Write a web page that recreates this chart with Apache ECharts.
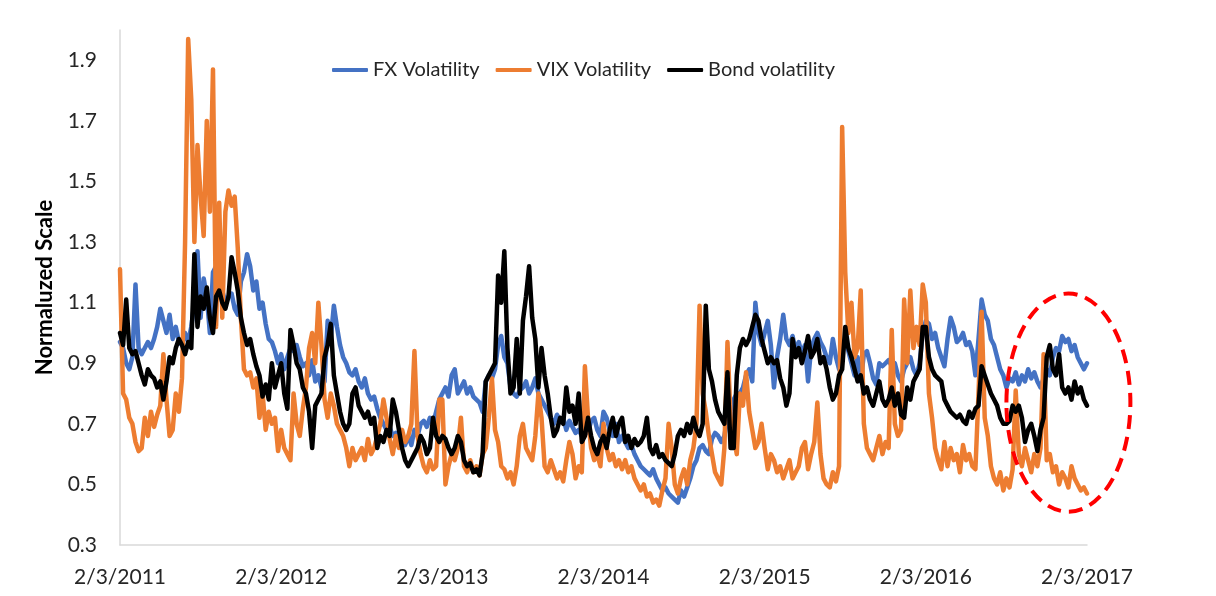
<!DOCTYPE html>
<html><head><meta charset="utf-8">
<script src="https://cdn.jsdelivr.net/npm/echarts@6/dist/echarts.min.js"></script>
<style>html,body{margin:0;padding:0;background:#fff}#c{width:1216px;height:596px}</style>
</head><body><div id="c"></div>
<script>
const tickLabels = ['2/3/2011','2/3/2012','2/3/2013','2/3/2014','2/3/2015','2/3/2016','2/3/2017'];
const seriesNames = ['FX Volatility','VIX Volatility','Bond volatility'];

// weekly readings, Feb 2011 -> Feb 2017 (52 per year + final point)
const fxVolatility = [
0.97,0.95,0.90,0.88,0.92,1.16,0.95,0.93,0.95,0.97,0.95,0.98,1.02,1.08,1.04,1.00,1.06,0.98,1.02,0.97,0.96,1.00,0.97,1.02,1.10,1.27,1.05,1.18,1.12,1.00,1.20,1.22,1.16,1.14,1.10,1.12,1.13,1.08,1.06,1.17,1.20,1.26,1.22,1.14,1.17,1.08,1.10,1.03,0.98,0.97,0.94,0.90,
0.93,0.88,0.92,0.95,0.94,0.96,0.92,0.89,0.90,0.86,0.91,0.84,0.86,0.82,0.84,1.04,0.98,1.09,1.02,0.96,0.92,0.90,0.87,0.86,0.88,0.84,0.82,0.85,0.80,0.78,0.79,0.75,0.72,0.70,0.68,0.69,0.66,0.67,0.64,0.65,0.63,0.66,0.63,0.68,0.66,0.70,0.71,0.69,0.72,0.70,0.74,0.78,
0.80,0.82,0.79,0.86,0.88,0.80,0.82,0.84,0.80,0.82,0.79,0.78,0.77,0.74,0.84,0.86,0.85,0.88,0.96,0.99,0.92,0.90,0.82,0.80,0.79,0.81,0.82,0.84,0.80,0.82,0.85,0.80,0.78,0.76,0.74,0.72,0.70,0.73,0.71,0.72,0.68,0.71,0.69,0.67,0.68,0.66,0.69,0.67,0.71,0.72,0.68,0.66,
0.74,0.72,0.68,0.66,0.70,0.64,0.66,0.64,0.62,0.63,0.60,0.58,0.56,0.55,0.54,0.53,0.55,0.52,0.50,0.48,0.49,0.47,0.46,0.45,0.44,0.48,0.46,0.49,0.52,0.56,0.58,0.62,0.63,0.61,0.60,0.65,0.67,0.66,0.64,0.66,0.72,0.70,0.78,0.80,0.80,0.82,0.86,0.88,0.84,1.10,1.00,0.96,
1.00,1.04,0.96,0.82,0.92,0.98,1.06,0.98,0.96,0.99,0.94,0.97,0.93,0.96,0.84,0.95,0.98,1.00,0.97,0.95,0.92,0.90,0.98,0.92,0.88,0.96,0.98,0.94,0.90,0.86,0.92,0.84,0.93,0.94,0.90,0.85,0.83,0.90,0.89,0.90,0.91,0.89,0.90,0.86,0.84,0.88,0.90,0.92,0.88,0.86,0.90,1.00,
1.04,1.03,0.98,1.00,0.95,0.92,0.89,0.98,1.05,1.02,0.97,0.98,1.00,0.96,0.97,0.94,0.86,0.98,1.11,1.06,1.04,0.98,0.96,0.92,0.88,0.86,0.82,0.85,0.84,0.87,0.83,0.86,0.84,0.88,0.85,0.87,0.84,0.82,0.85,0.88,0.86,0.92,0.95,0.94,0.99,0.97,0.98,0.94,0.96,0.92,0.90,0.88,0.90
];
const vixVolatility = [
1.21,0.80,0.78,0.72,0.70,0.64,0.61,0.62,0.72,0.66,0.74,0.69,0.73,0.76,0.93,0.78,0.66,0.68,0.80,0.74,0.85,1.30,1.97,1.77,1.30,1.62,1.45,1.32,1.70,1.40,1.87,1.02,1.43,1.05,1.40,1.47,1.42,1.45,1.28,1.05,0.88,0.86,0.87,0.82,0.85,0.72,0.80,0.68,0.74,0.70,0.72,0.61,
0.68,0.62,0.60,0.58,0.80,0.70,0.66,0.75,0.82,0.95,1.00,0.90,1.10,0.96,0.78,0.72,0.80,0.76,0.70,0.68,0.66,0.62,0.56,0.62,0.58,0.60,0.62,0.58,0.65,0.60,0.62,0.66,0.70,0.78,0.72,0.65,0.60,0.66,0.62,0.68,0.64,0.66,0.70,0.94,0.66,0.60,0.56,0.54,0.58,0.55,0.56,0.78,
0.78,0.50,0.56,0.60,0.58,0.62,0.72,0.56,0.54,0.58,0.54,0.56,0.53,0.60,0.62,0.72,0.85,0.68,0.64,0.56,0.55,0.52,0.54,0.50,0.56,0.66,0.70,0.62,0.60,0.58,0.66,0.80,0.72,0.56,0.54,0.58,0.55,0.52,0.54,0.51,0.58,0.64,0.60,0.52,0.56,0.54,0.89,0.72,0.62,0.58,0.60,0.56,
0.70,0.62,0.58,0.60,0.56,0.58,0.55,0.58,0.54,0.56,0.52,0.50,0.48,0.50,0.46,0.47,0.44,0.45,0.43,0.48,0.52,0.70,0.62,0.50,0.47,0.52,0.55,0.50,0.58,0.62,0.70,1.09,0.80,0.74,0.66,0.60,0.54,0.52,0.50,0.62,0.97,0.72,0.66,0.60,0.80,0.76,0.87,0.74,0.68,0.62,0.64,0.70,
0.62,0.55,0.60,0.58,0.54,0.56,0.52,0.55,0.58,0.52,0.54,0.56,0.62,0.64,0.55,0.60,0.64,0.77,0.60,0.52,0.50,0.49,0.54,0.51,0.56,1.68,1.20,1.00,1.10,0.92,0.95,1.14,0.70,0.62,0.60,0.58,0.62,0.66,0.60,0.64,0.62,1.01,0.70,0.66,0.68,1.11,0.90,1.14,0.95,1.02,0.96,1.16,
1.10,0.80,0.72,0.62,0.58,0.55,0.64,0.56,0.62,0.58,0.60,0.54,0.63,0.58,0.60,0.56,0.55,0.80,1.07,0.72,0.66,0.56,0.52,0.50,0.54,0.48,0.52,0.49,0.55,0.81,0.60,0.56,0.62,0.58,0.54,0.60,0.56,0.62,0.93,0.58,0.60,0.54,0.56,0.50,0.54,0.52,0.49,0.56,0.52,0.50,0.48,0.49,0.47
];
const bondVolatility = [
1.00,0.96,1.11,0.95,0.93,0.94,0.90,0.86,0.83,0.88,0.86,0.85,0.82,0.84,0.78,0.84,0.92,0.90,0.95,0.98,0.96,0.93,0.97,0.95,1.26,1.02,1.12,1.08,1.15,1.05,1.00,1.12,1.14,1.10,1.08,1.12,1.25,1.20,1.14,1.05,1.00,0.96,0.98,0.93,0.89,0.86,0.79,0.83,0.78,0.90,0.82,0.86,
0.90,0.80,0.75,1.01,0.96,0.90,0.88,0.82,0.80,0.74,0.62,0.76,0.78,0.80,0.92,0.96,1.03,0.86,0.80,0.74,0.70,0.68,0.70,0.80,0.82,0.76,0.74,0.72,0.74,0.70,0.72,0.62,0.66,0.64,0.68,0.66,0.78,0.74,0.68,0.62,0.58,0.56,0.58,0.60,0.62,0.66,0.64,0.60,0.62,0.72,0.66,0.64,
0.66,0.65,0.62,0.60,0.62,0.66,0.64,0.58,0.56,0.57,0.54,0.55,0.53,0.60,0.84,0.86,0.88,0.90,1.19,1.10,1.27,0.95,0.80,0.82,0.98,0.80,1.04,1.12,1.22,1.05,0.98,0.82,0.95,0.86,0.80,0.72,0.66,0.68,0.72,0.70,0.82,0.74,0.76,0.70,0.80,0.64,0.66,0.72,0.66,0.62,0.60,0.64,
0.66,0.62,0.68,0.72,0.66,0.70,0.72,0.64,0.66,0.62,0.65,0.63,0.64,0.66,0.72,0.62,0.60,0.63,0.59,0.60,0.58,0.57,0.56,0.60,0.66,0.68,0.66,0.70,0.67,0.72,0.68,0.66,0.70,1.09,0.88,0.84,0.78,0.74,0.72,0.70,0.87,0.62,0.62,0.86,0.95,0.98,0.96,0.98,1.02,1.06,1.04,0.98,
0.94,0.90,0.92,0.90,0.91,0.85,0.82,0.76,0.80,0.98,0.92,0.95,0.90,0.94,0.99,0.92,0.94,0.98,0.90,0.92,0.88,0.82,0.78,0.80,0.86,0.88,1.02,0.95,0.92,0.88,0.84,0.86,0.80,0.82,0.78,0.76,0.80,0.84,0.78,0.76,0.78,0.82,0.76,0.80,0.73,0.72,0.82,0.78,0.84,0.86,0.88,1.02,
1.02,0.92,0.88,0.86,0.85,0.84,0.78,0.76,0.74,0.73,0.72,0.73,0.71,0.70,0.74,0.72,0.75,0.76,0.89,0.86,0.83,0.80,0.78,0.76,0.72,0.70,0.70,0.71,0.76,0.74,0.76,0.72,0.64,0.68,0.70,0.66,0.61,0.68,0.72,0.92,0.96,0.88,0.86,0.93,0.82,0.80,0.82,0.78,0.84,0.80,0.82,0.78,0.76
];

// weekly date categories: 52 per year starting each Feb 3, plus the last Feb 3
const categories = [];
for (let y = 0; y < tickLabels.length - 1; y++) {
  const start = Date.UTC(2011 + y, 1, 3);
  for (let j = 0; j < 52; j++) {
    const d = new Date(start + Math.round(j * 365.25 / 52) * 86400000);
    categories.push((d.getUTCMonth() + 1) + '/' + d.getUTCDate() + '/' + d.getUTCFullYear());
  }
}
categories.push(tickLabels[tickLabels.length - 1]);

const FONT = 'Lato';
const colors = ['#4472C4', '#ED7D31', '#000000'];
const values = [fxVolatility, vixVolatility, bondVolatility];

const chart = echarts.init(document.getElementById('c'), null, {renderer: 'canvas'});
chart.setOption({
  animation: false,
  backgroundColor: '#ffffff',
  textStyle: {fontFamily: FONT},
  grid: {left: 120, right: 129, top: 30, bottom: 51, containLabel: false},
  legend: {
    left: 327, top: 55, itemWidth: 36, itemHeight: 4, itemGap: 16,
    icon: 'roundRect',
    textStyle: {fontSize: 20, color: '#262626', fontFamily: FONT},
    data: seriesNames
  },
  xAxis: {
    type: 'category', data: categories, boundaryGap: false,
    axisLine: {lineStyle: {color: '#d9d9d9', width: 1.5}},
    axisTick: {show: false},
    splitLine: {show: false},
    axisLabel: {interval: 51, margin: 22, fontSize: 21, color: '#262626', fontFamily: FONT,
      showMinLabel: true, showMaxLabel: true,
      formatter: (v) => tickLabels.indexOf(v) >= 0 ? v : ''}
  },
  yAxis: {
    type: 'value', min: 0.3, max: 2.0, interval: 0.2,
    name: 'Normaluzed Scale', nameLocation: 'middle', nameGap: 64,
    nameTextStyle: {fontSize: 22, fontWeight: 'bold', color: '#000', fontFamily: FONT},
    axisLine: {show: true, lineStyle: {color: '#d9d9d9', width: 1.5}},
    axisTick: {show: false},
    splitLine: {show: false},
    axisLabel: {margin: 23, fontSize: 21, color: '#262626', fontFamily: FONT,
      formatter: (v) => v > 1.95 ? '' : v.toFixed(1)}
  },
  series: seriesNames.map((n, i) => ({
    name: n, type: 'line', data: values[i], showSymbol: false, symbol: 'none',
    color: colors[i], itemStyle: {color: colors[i]},
    lineStyle: {width: 4.5, color: colors[i], join: 'round', cap: 'round'},
    z: 2 + i
  }))
});

// dashed ellipse annotation around the last months
const c1 = chart.convertToPixel({gridIndex: 0}, [306, 0.77]);
const c2 = chart.convertToPixel({gridIndex: 0}, [286, 1.13]);
chart.setOption({
  graphic: [{
    type: 'ellipse', z: 100,
    shape: {cx: c1[0], cy: c1[1], rx: Math.abs(c1[0] - c2[0]), ry: Math.abs(c1[1] - c2[1])},
    style: {fill: 'none', stroke: '#ff0000', lineWidth: 4, lineDash: [14, 8]}
  }]
});
</script></body></html>
